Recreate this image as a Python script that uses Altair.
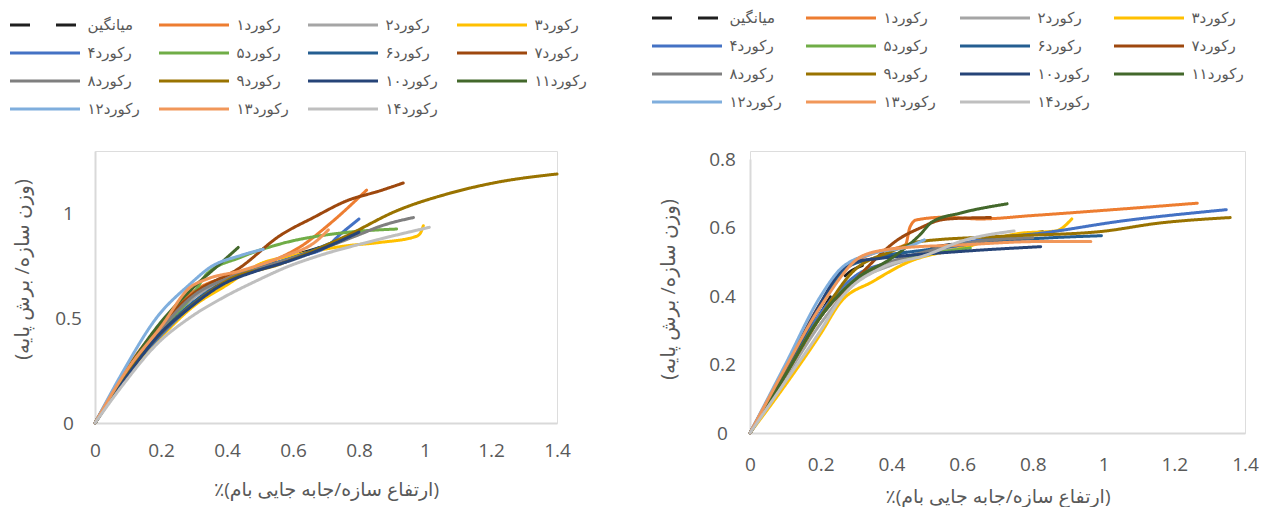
import altair as alt
import pandas as pd

FONT = "Open Sans, DejaVu Sans"
GRAY_TXT = "#595959"

# ---- series names / colours -------------------------------------------
NAMES = ["میانگین", "رکورد۱", "رکورد۲", "رکورد۳", "رکورد۴", "رکورد۵", "رکورد۶",
         "رکورد۷", "رکورد۸", "رکورد۹", "رکورد۱۰", "رکورد۱۱", "رکورد۱۲", "رکورد۱۳",
         "رکورد۱۴"]
COLORS = ["#1f1f1f", "#ED7D31", "#A5A5A5", "#FFC000", "#4472C4", "#70AD47",
          "#255E91", "#9E480E", "#7F7F7F", "#997300", "#264478", "#43682B",
          "#7FAEDD", "#F1975A", "#BFBFBF"]
DASHES = [[20, 26]] + [[1, 0]] * 14

X_TITLE = "٪(ارتفاع سازه/جابه جایی بام)"
Y_TITLE = "(وزن سازه/ برش پایه)"

X_TICKS = [0, 0.2, 0.4, 0.6, 0.8, 1, 1.2, 1.4]
LEFT_Y_TICKS = [0, 0.5, 1]
RIGHT_Y_TICKS = [0, 0.2, 0.4, 0.6, 0.8]

# ---- left panel data (x = drift %, y = base shear / weight) ----------
L0_x = [0, 0.1, 0.2, 0.3, 0.4, 0.5, 0.6, 0.7, 0.8, 0.835]
L0_y = [0, 0.25, 0.45, 0.6, 0.69, 0.75, 0.8, 0.85, 0.92, 0.955]
L1_x = [0, 0.1, 0.2, 0.3, 0.4, 0.5, 0.56, 0.62, 0.71, 0.823]
L1_y = [0, 0.27, 0.47, 0.63, 0.7, 0.75, 0.79, 0.84, 0.95, 1.113]
L2_x = [0, 0.1, 0.2, 0.3, 0.4, 0.5, 0.6, 0.7]
L2_y = [0, 0.25, 0.44, 0.6, 0.68, 0.74, 0.79, 0.84]
L3_x = [0, 0.1, 0.2, 0.3, 0.4, 0.5, 0.6, 0.763, 0.864, 0.97, 0.985, 0.995]
L3_y = [0, 0.23, 0.41, 0.56, 0.66, 0.76, 0.8, 0.847, 0.863, 0.89, 0.905, 0.943]
L4_x = [0, 0.1, 0.2, 0.3, 0.4, 0.5, 0.6, 0.7, 0.742, 0.8]
L4_y = [0, 0.24, 0.42, 0.57, 0.68, 0.74, 0.79, 0.84, 0.9, 0.975]
L5_x = [0, 0.1, 0.2, 0.3, 0.338, 0.44, 0.56, 0.763, 0.914]
L5_y = [0, 0.25, 0.45, 0.62, 0.711, 0.791, 0.855, 0.911, 0.927]
L6_x = [0, 0.1, 0.2, 0.3, 0.4, 0.5, 0.6, 0.73]
L6_y = [0, 0.24, 0.43, 0.58, 0.68, 0.74, 0.79, 0.87]
L7_x = [0, 0.1, 0.2, 0.3, 0.44, 0.56, 0.662, 0.763, 0.864, 0.934]
L7_y = [0, 0.26, 0.47, 0.62, 0.743, 0.895, 0.982, 1.062, 1.11, 1.147]
L8_x = [0, 0.1, 0.2, 0.3, 0.4, 0.5, 0.6, 0.7, 0.8, 0.864, 0.965]
L8_y = [0, 0.25, 0.45, 0.61, 0.69, 0.74, 0.79, 0.84, 0.9, 0.94, 0.982]
L9_x = [0, 0.1, 0.2, 0.3, 0.4, 0.56, 0.763, 0.914, 1.066, 1.217, 1.4]
L9_y = [0, 0.24, 0.43, 0.57, 0.68, 0.759, 0.895, 1.014, 1.094, 1.15, 1.19]
L10_x = [0, 0.1, 0.187, 0.288, 0.389, 0.49, 0.59, 0.7, 0.8]
L10_y = [0, 0.23, 0.41, 0.552, 0.664, 0.727, 0.775, 0.84, 0.912]
L11_x = [0, 0.1, 0.187, 0.288, 0.389, 0.434]
L11_y = [0, 0.26, 0.457, 0.632, 0.775, 0.839]
L12_x = [0, 0.086, 0.187, 0.288, 0.348, 0.44, 0.51]
L12_y = [0, 0.249, 0.504, 0.664, 0.743, 0.8, 0.83]
L13_x = [0, 0.1, 0.2, 0.288, 0.338, 0.44, 0.56, 0.672, 0.707]
L13_y = [0, 0.26, 0.46, 0.648, 0.687, 0.727, 0.79, 0.871, 0.923]
L14_x = [0, 0.086, 0.187, 0.288, 0.389, 0.49, 0.59, 0.662, 0.864, 1.013]
L14_y = [0, 0.185, 0.376, 0.504, 0.6, 0.68, 0.751, 0.791, 0.879, 0.935]

# ---- right panel data --------------------------------------------------
R0_x = [0, 0.1, 0.2, 0.27, 0.35, 0.45, 0.6, 0.75, 0.87]
R0_y = [0, 0.17, 0.35, 0.46, 0.5, 0.53, 0.555, 0.575, 0.595]
R1_x = [0, 0.1, 0.2, 0.27, 0.35, 0.44, 0.452, 0.47, 0.55, 0.65, 0.8, 1.0, 1.265]
R1_y = [0, 0.19, 0.38, 0.48, 0.525, 0.55, 0.6, 0.622, 0.63, 0.625, 0.635, 0.65, 0.671]
R2_x = [0, 0.1, 0.2, 0.3, 0.4, 0.5, 0.6, 0.72]
R2_y = [0, 0.16, 0.32, 0.44, 0.49, 0.52, 0.545, 0.565]
R3_x = [0, 0.1, 0.2, 0.257, 0.347, 0.45, 0.6, 0.764, 0.865, 0.91]
R3_y = [0, 0.14, 0.29, 0.383, 0.442, 0.5, 0.54, 0.583, 0.59, 0.625]
R4_x = [0, 0.1, 0.2, 0.3, 0.4, 0.5, 0.685, 0.82, 1.045, 1.347]
R4_y = [0, 0.17, 0.35, 0.46, 0.5, 0.53, 0.569, 0.583, 0.618, 0.652]
R5_x = [0, 0.1, 0.2, 0.3, 0.37, 0.45, 0.55, 0.623]
R5_y = [0, 0.17, 0.34, 0.45, 0.49, 0.51, 0.53, 0.54]
R6_x = [0, 0.1, 0.2, 0.27, 0.35, 0.5, 0.7, 0.85, 0.994]
R6_y = [0, 0.18, 0.37, 0.48, 0.51, 0.535, 0.56, 0.57, 0.576]
R7_x = [0, 0.1, 0.2, 0.3, 0.425, 0.48, 0.54, 0.595, 0.68]
R7_y = [0, 0.17, 0.34, 0.45, 0.569, 0.598, 0.622, 0.627, 0.629]
R8_x = [0, 0.1, 0.2, 0.3, 0.4, 0.5, 0.65, 0.8]
R8_y = [0, 0.17, 0.34, 0.45, 0.5, 0.53, 0.56, 0.57]
R9_x = [0, 0.1, 0.2, 0.29, 0.4, 0.48, 0.707, 0.99, 1.158, 1.358]
R9_y = [0, 0.17, 0.34, 0.47, 0.53, 0.559, 0.574, 0.588, 0.613, 0.629]
R10_x = [0, 0.1, 0.2, 0.257, 0.3, 0.37, 0.595, 0.822]
R10_y = [0, 0.19, 0.38, 0.475, 0.5, 0.51, 0.53, 0.544]
R11_x = [0, 0.1, 0.2, 0.3, 0.4, 0.48, 0.516, 0.595, 0.727]
R11_y = [0, 0.17, 0.34, 0.45, 0.51, 0.578, 0.617, 0.642, 0.669]
R12_x = [0, 0.1, 0.2, 0.257, 0.35, 0.45, 0.493]
R12_y = [0, 0.2, 0.4, 0.48, 0.525, 0.545, 0.564]
R13_x = [0, 0.1, 0.2, 0.324, 0.426, 0.595, 0.82, 0.964]
R13_y = [0, 0.19, 0.37, 0.52, 0.54, 0.549, 0.559, 0.559]
R14_x = [0, 0.1, 0.2, 0.257, 0.37, 0.5, 0.595, 0.747]
R14_y = [0, 0.15, 0.3, 0.393, 0.481, 0.52, 0.559, 0.59]

LEFT = [(L0_x, L0_y), (L1_x, L1_y), (L2_x, L2_y), (L3_x, L3_y), (L4_x, L4_y),
        (L5_x, L5_y), (L6_x, L6_y), (L7_x, L7_y), (L8_x, L8_y), (L9_x, L9_y),
        (L10_x, L10_y), (L11_x, L11_y), (L12_x, L12_y), (L13_x, L13_y), (L14_x, L14_y)]
RIGHT = [(R0_x, R0_y), (R1_x, R1_y), (R2_x, R2_y), (R3_x, R3_y), (R4_x, R4_y),
         (R5_x, R5_y), (R6_x, R6_y), (R7_x, R7_y), (R8_x, R8_y), (R9_x, R9_y),
         (R10_x, R10_y), (R11_x, R11_y), (R12_x, R12_y), (R13_x, R13_y), (R14_x, R14_y)]

# legend fills column by column: reorder so it reads row by row (4 columns)
N = len(NAMES)
ORDER = [4 * r + c for c in range(4) for r in range(4) if 4 * r + c < N]
DOMAIN = [NAMES[k] for k in ORDER]
COLOR_RANGE = [COLORS[k] for k in ORDER]
DASH_RANGE = [DASHES[k] for k in ORDER]


def frame(series):
    rows = []
    for name, (xs, ys) in zip(NAMES, series):
        for i, (x, y) in enumerate(zip(xs, ys)):
            rows.append({"s": name, "x": x, "y": y, "i": i})
    return pd.DataFrame(rows)


def legend(lx, ly, cp):
    return alt.Legend(title=None, orient="none", legendX=lx, legendY=ly, columns=4,
                      symbolType="stroke", symbolSize=4900, symbolStrokeWidth=3,
                      clipHeight=18, rowPadding=10, columnPadding=cp, labelOffset=6,
                      labelFontSize=15, labelColor=GRAY_TXT, labelFont=FONT,
                      gridAlign="all", symbolOpacity=1)


def axis(values, title, lp, tp, tsize, align=None, ty=None):
    kw = dict(values=values, format="~g", title=title, grid=False, ticks=False,
              domainColor="#D9D9D9", domainWidth=2, labelFontSize=19,
              labelColor=GRAY_TXT, labelFont=FONT, labelPadding=lp,
              labelFlush=False, labelOverlap=False,
              titleFont=FONT, titleFontSize=tsize, titleColor=GRAY_TXT,
              titleFontWeight="normal", titlePadding=tp)
    if align:
        kw["labelAlign"] = align
    if ty is not None:
        kw["titleY"] = ty
    return alt.Axis(**kw)


def panel(series, yscale, yvals, w, h, lx, ly, cp, xlp, xtp, ylp, ytp, yty):
    df = frame(series)
    return alt.Chart(df).mark_line(interpolate="monotone", strokeWidth=3,
                                   strokeCap="round").encode(
        x=alt.X("x:Q", scale=alt.Scale(domain=[0, 1.4], nice=False),
                axis=axis(X_TICKS, X_TITLE, xlp, xtp, 19)),
        y=alt.Y("y:Q", scale=yscale,
                axis=axis(yvals, Y_TITLE, ylp, ytp, 20, "center", yty)),
        color=alt.Color("s:N", scale=alt.Scale(domain=DOMAIN, range=COLOR_RANGE),
                        legend=legend(lx, ly, cp)),
        strokeDash=alt.StrokeDash("s:N", scale=alt.Scale(domain=DOMAIN, range=DASH_RANGE),
                                  legend=legend(lx, ly, cp)),
        order=alt.Order("i:Q"),
    ).properties(width=w, height=h)


left = panel(LEFT, alt.Scale(domain=[0, 1.3], nice=False), LEFT_Y_TICKS,
             462, 272, -86.5, -135, 17, 18, 20, 27, 22, 118)
right = panel(RIGHT, alt.Scale(domain=[0, 0.8], nice=False, range=[282, 8]),
              RIGHT_Y_TICKS, 495, 282, -99.5, -142, 22, 22, 13, 28, 30, 138)

chart = alt.hconcat(left, right, spacing=193, bounds="flush").resolve_scale(
    x="independent", y="independent", color="independent", strokeDash="independent"
).resolve_legend(color="independent", strokeDash="independent").properties(
    padding=0
).configure_view(stroke=None).configure(background="white")

chart.save("out.html", embed_options={"renderer": "svg", "actions": False})
